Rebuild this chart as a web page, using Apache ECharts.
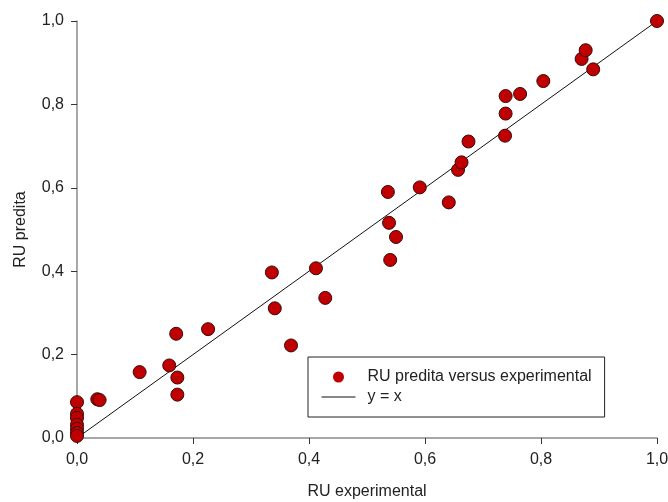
<!DOCTYPE html>
<html>
<head>
<meta charset="utf-8">
<script src="https://cdn.jsdelivr.net/npm/echarts@6/dist/echarts.min.js"></script>
<style>
  html, body { margin: 0; padding: 0; background: #fff; }
  #chart { width: 668px; height: 502px; }
</style>
</head>
<body>
<div id="chart"></div>
<script>
// RU experimental (x) vs RU predita (y)
const ruExperimental = [
  0, 0, 0, 0, 0, 0, 0,
  0.035, 0.039, 0.108, 0.159, 0.171, 0.173, 0.173, 0.226, 0.369,
  0.336, 0.341, 0.412, 0.428, 0.536, 0.538, 0.550, 0.540, 0.591, 0.641, 0.657, 0.663,
  0.675, 0.738, 0.739, 0.739, 0.764, 0.804, 0.870, 0.877, 0.890, 1.0
];
const ruPredita = [
  0.086, 0.058, 0.048, 0.032, 0.022, 0.012, 0.005,
  0.093, 0.091, 0.158, 0.174, 0.250, 0.145, 0.104, 0.261, 0.222,
  0.397, 0.311, 0.407, 0.336, 0.590, 0.516, 0.482, 0.427, 0.601, 0.565, 0.643, 0.661,
  0.711, 0.725, 0.778, 0.820, 0.825, 0.856, 0.909, 0.930, 0.884, 1.0
];
const identityLine = [[0, 0], [1, 1]];

const FONT = 'Liberation Sans, Arial, sans-serif';
const AXISCOLOR = '#8a8a8a';
const fmt = v => v.toFixed(1).replace('.', ',');

const chart = echarts.init(document.getElementById('chart'));

const axisBase = {
  type: 'value',
  min: 0,
  max: 1,
  interval: 0.2,
  splitLine: { show: false },
  axisLine: { show: true, lineStyle: { color: AXISCOLOR, width: 1.5 } },
  axisTick: { show: true, inside: false, length: 6, lineStyle: { color: '#333', width: 1 } },
  axisLabel: { color: '#222', fontFamily: FONT, fontSize: 16, formatter: fmt },
  nameLocation: 'middle',
  nameTextStyle: { color: '#222', fontFamily: FONT, fontSize: 16 }
};

chart.setOption({
  backgroundColor: '#fff',
  animation: false,
  textStyle: { fontFamily: FONT },
  grid: { left: 77, right: 11, top: 21, bottom: 64, containLabel: false, outerBoundsMode: 'none' },
  xAxis: Object.assign({}, axisBase, {
    name: 'RU experimental',
    nameGap: 46,
    axisLabel: Object.assign({}, axisBase.axisLabel, { margin: 14 })
  }),
  yAxis: Object.assign({}, axisBase, {
    name: 'RU predita',
    nameGap: 48,
    axisLabel: Object.assign({}, axisBase.axisLabel, { margin: 13 })
  }),
  legend: {
    orient: 'vertical',
    left: 308,
    top: 357,
    padding: [12, 13, 12, 13],
    itemGap: 4,
    itemWidth: 34,
    itemHeight: 11,
    borderColor: '#222',
    borderWidth: 1,
    backgroundColor: '#fff',
    textStyle: { color: '#222', fontFamily: FONT, fontSize: 16, padding: [0, 0, 0, 7] },
    data: [
      { name: 'RU predita versus experimental', icon: 'circle', itemStyle: { borderWidth: 0, color: '#c00000' } },
      { name: 'y = x', itemStyle: { opacity: 0 }, lineStyle: { width: 1, color: '#111' } }
    ]
  },
  series: [
    {
      name: 'y = x',
      type: 'line',
      data: identityLine,
      symbol: 'none',
      lineStyle: { color: '#111', width: 1 },
      itemStyle: { color: '#111' },
      z: 1
    },
    {
      name: 'RU predita versus experimental',
      type: 'scatter',
      data: ruExperimental.map((x, i) => [x, ruPredita[i]]),
      symbol: 'circle',
      symbolSize: 13,
      itemStyle: { color: '#c00000', borderColor: '#3a0a0a', borderWidth: 1, opacity: 1 },
      z: 2
    }
  ]
});
</script>
</body>
</html>
